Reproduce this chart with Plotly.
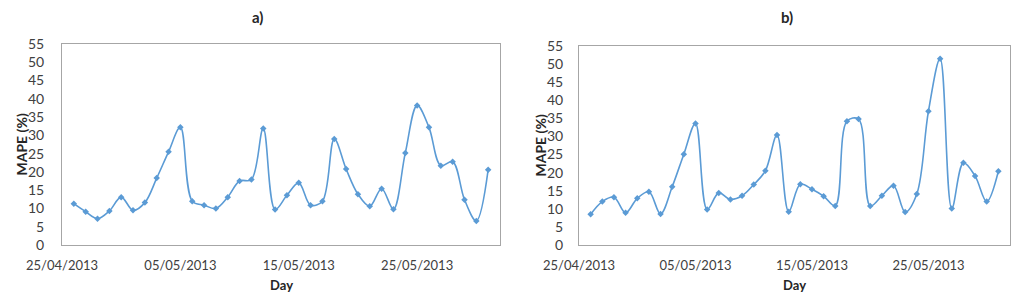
import plotly.graph_objects as go
import pandas as pd

dates = pd.date_range("2013-04-26", periods=36, freq="D")

mape_a = [11.3, 9.1, 7.2, 9.3, 13.1, 9.5, 11.6, 18.3, 25.5, 32.2,
          12.0, 10.9, 10.0, 13.1, 17.5, 17.9, 31.9, 9.7, 13.6, 17.0,
          10.9, 12.0, 29.0, 20.8, 13.9, 10.6, 15.4, 9.8, 25.2, 38.2,
          32.2, 21.7, 22.8, 12.4, 6.6, 20.6]

mape_b = [8.5, 12.0, 13.2, 8.9, 12.9, 14.7, 8.6, 16.1, 25.1, 33.6,
          9.8, 14.4, 12.6, 13.6, 16.7, 20.5, 30.4, 9.2, 16.8, 15.4,
          13.5, 10.8, 34.2, 34.8, 10.8, 13.6, 16.4, 9.1, 14.1, 37.0,
          51.5, 10.1, 22.7, 19.1, 12.0, 20.4]

panel_titles = ["a)", "b)"]
y_ticks = list(range(0, 56, 5))
x_ticks = ["2013-04-25", "2013-05-05", "2013-05-15", "2013-05-25"]

W, H = 1024, 302
blue = "#5B9BD5"
font = "Lato, Open Sans, sans-serif"

fig = go.Figure()
for i, vals in enumerate([mape_a, mape_b]):
    sfx = "" if i == 0 else "2"
    fig.add_trace(go.Scatter(
        x=dates, y=vals, mode="lines+markers",
        line=dict(color=blue, width=1.6, shape="spline", smoothing=1.0),
        marker=dict(symbol="diamond", size=5, color=blue),
        xaxis="x" + sfx, yaxis="y" + sfx, showlegend=False,
    ))

def xpx(p):
    return p / W

def ypx(p):
    return 1 - p / H

panels = [
    dict(x0=62, x1=500, y0=44, y1=245, tx=257, ytx=21, yt=14),
    dict(x0=579, x1=1010, y0=46, y1=245, tx=787, ytx=540, yt=12),
]

layout = dict(
    width=W, height=H, margin=dict(l=0, r=0, t=0, b=0, autoexpand=False),
    paper_bgcolor="white", plot_bgcolor="white",
    font=dict(family=font, size=13, color="#404040"),
)
annotations = []
for i, p in enumerate(panels):
    sfx = "" if i == 0 else "2"
    layout["xaxis" + sfx] = dict(
        domain=[xpx(p["x0"]), xpx(p["x1"])],
        anchor="y" + sfx, type="date", automargin=False,
        range=["2013-04-25", "2013-06-01"],
        tickvals=x_ticks, tickformat="%d/%m/%Y",
        showgrid=False, zeroline=False,
        showline=True, linecolor="#A6A6A6", linewidth=1, mirror=True,
        ticks="outside", ticklen=8, tickcolor="rgba(0,0,0,0)",
        tickfont=dict(size=13, color="#404040"),
    )
    layout["yaxis" + sfx] = dict(
        domain=[ypx(p["y1"]), ypx(p["y0"])],
        anchor="x" + sfx, range=[0, 55], automargin=False,
        tickvals=y_ticks,
        showgrid=False, zeroline=False,
        showline=True, linecolor="#A6A6A6", linewidth=1, mirror=True,
        ticks="outside", ticklen=p["yt"], tickcolor="rgba(0,0,0,0)",
        tickfont=dict(size=14, color="#404040"),
    )
    annotations.append(dict(
        text="<b>" + panel_titles[i] + "</b>", x=xpx(p["tx"]), y=ypx(17),
        xref="paper", yref="paper", showarrow=False,
        font=dict(size=15, color="#262626"), xanchor="center", yanchor="middle"))
    annotations.append(dict(
        text="<b>Day</b>", x=xpx((p["x0"] + p["x1"]) / 2), y=ypx(285),
        xref="paper", yref="paper", showarrow=False,
        font=dict(size=13, color="#262626"), xanchor="center", yanchor="middle"))
    annotations.append(dict(
        text="<b>MAPE (%)</b>", x=xpx(p["ytx"]), y=ypx((p["y0"] + p["y1"]) / 2),
        xref="paper", yref="paper", showarrow=False, textangle=-90,
        font=dict(size=14, color="#262626"), xanchor="center", yanchor="middle"))

layout["annotations"] = annotations
fig.update_layout(**layout)
fig.write_html("out.html", config={"displayModeBar": False},
               post_script="document.body.style.margin='0';")
